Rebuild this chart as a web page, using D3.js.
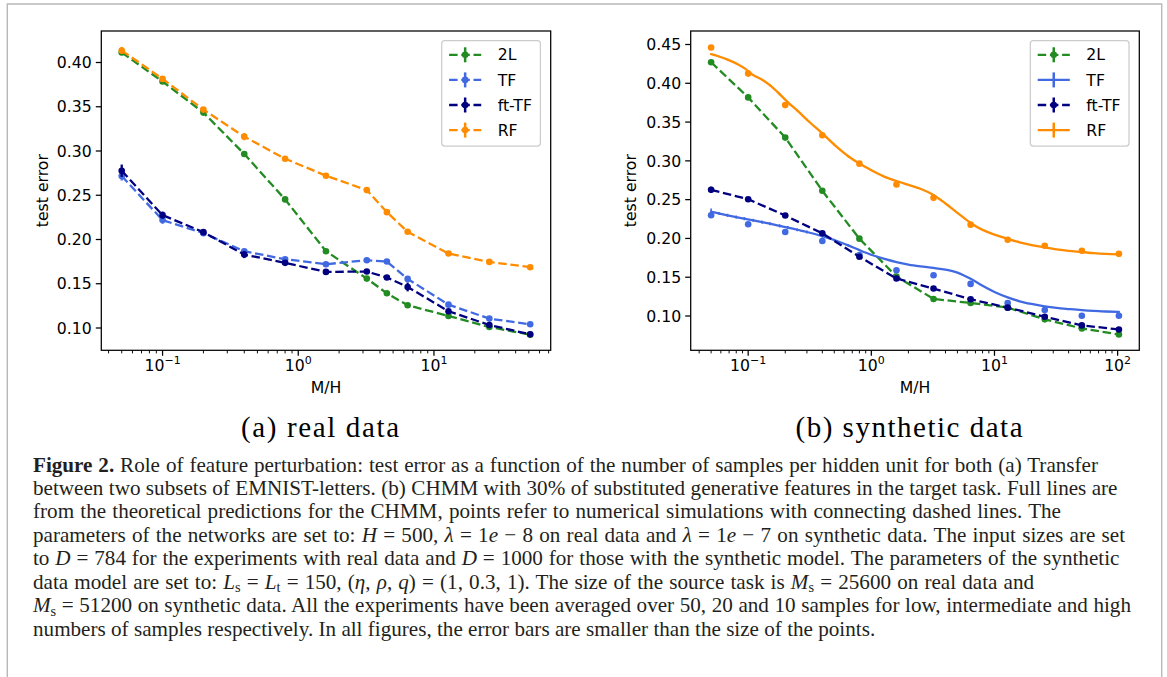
<!DOCTYPE html>
<html><head><meta charset="utf-8">
<script src="https://cdn.jsdelivr.net/npm/d3@7"></script>
<style>body{margin:0;background:#fff}svg{display:block}</style>
</head><body>
<svg id="fig" width="1167" height="677"></svg>
<script>
// ---------------- DATA ----------------
// (a) real data
const xReal = [0.05,0.1,0.2,0.4,0.8,1.6,3.2,4.5,6.4,12.8,25.6,51.2];
const real2L   = [0.4113,0.3785,0.3434,0.2966,0.2453,0.1868,0.1558,0.1392,0.1257,0.1136,0.1011,0.0925];
const realTF   = [0.2717,0.2219,0.2072,0.1868,0.1777,0.1721,0.1766,0.1751,0.1555,0.1264,0.1106,0.1042];
const realFtTF = [0.2777,0.2275,0.2083,0.1830,0.1736,0.1634,0.1638,0.1570,0.1464,0.1189,0.1034,0.0928];
const realRF   = [0.4136,0.3815,0.3468,0.3162,0.2913,0.2721,0.2558,0.2309,0.2087,0.1842,0.1747,0.1687];
const realErr2L   = [0.003,0.002,0.002,0.003,0.002,0.002,0.001,0.001,0.001,0.001,0.001,0.001];
const realErrTF   = [0.005,0.004,0.002,0.002,0.001,0.001,0.001,0.001,0.002,0.001,0.001,0.001];
const realErrFtTF = [0.007,0.004,0.002,0.004,0.002,0.001,0.001,0.002,0.005,0.002,0.001,0.001];
const realErrRF   = [0.004,0.003,0.002,0.004,0.001,0.001,0.001,0.001,0.001,0.001,0.001,0.001];

// (b) synthetic data: simulations
const xSyn = [0.05,0.1,0.2,0.4,0.8,1.6,3.2,6.4,12.8,25.6,51.2,102.4];
const syn2L   = [0.4271,0.3818,0.3300,0.2614,0.1997,0.1509,0.1220,0.1168,0.1108,0.0957,0.0840,0.0762];
const synTF   = [0.2299,0.2182,0.2083,0.1967,0.1785,0.1590,0.1526,0.1414,0.1168,0.1077,0.1004,0.1004];
const synFtTF = [0.2627,0.2506,0.2295,0.2066,0.1764,0.1483,0.1354,0.1216,0.1108,0.0991,0.0879,0.0827];
const synRF   = [0.4461,0.4125,0.3719,0.3330,0.2964,0.2696,0.2523,0.2178,0.1984,0.1906,0.1841,0.1802];
const synErr2L   = [0.002,0.002,0.002,0.002,0.002,0.001,0.001,0.001,0.001,0.001,0.001,0.001];
const synErrFtTF = [0.004,0.002,0.002,0.002,0.001,0.001,0.001,0.001,0.001,0.001,0.001,0.001];

// (b) synthetic data: theory curves
const xTheory = [0.05,0.058,0.068,0.08,0.093,0.11,0.13,0.15,0.18,0.21,0.25,0.3,0.4,0.5,0.65,0.8,1.0,1.3,1.6,2.0,2.5,3.2,4.0,5.0,6.4,8.0,10,12.8,16,20,25.6,32,40,51.2,64,80,102.4];
const theoryTF = [0.2345,0.2322,0.2298,0.2275,0.2255,0.2233,0.2210,0.2190,0.2163,0.2140,0.2112,0.2083,0.2030,0.1980,0.1910,0.1850,0.1790,0.1733,0.1695,0.1663,0.1640,0.1620,0.1598,0.1560,0.1480,0.1390,0.1310,0.1240,0.1190,0.1155,0.1125,0.1105,0.1090,0.1075,0.1065,0.1058,0.1052];
const theoryRF = [0.4375,0.4345,0.4305,0.4255,0.4195,0.4105,0.4045,0.3975,0.3860,0.3755,0.3650,0.3530,0.3355,0.3210,0.3060,0.2965,0.2880,0.2790,0.2740,0.2690,0.2640,0.2560,0.2450,0.2330,0.2200,0.2110,0.2050,0.1995,0.1950,0.1915,0.1885,0.1860,0.1840,0.1825,0.1810,0.1800,0.1795];
const theoryErrTF = [0.004,0.002,0.002,0.002,0.002,0.002,0.002,0.002,0.002,0.002,0.002,0.002,0.002,0.0015,0.0015,0.001,0.001,0.001,0,0,0,0,0,0,0,0,0,0,0,0,0,0,0,0,0,0,0];
const theoryErrRF = [0.001,0.001,0.001,0.001,0.001,0.001,0.001,0.0015,0.0015,0.0015,0.0015,0.0015,0.0015,0.0015,0.0015,0.0015,0.001,0.001,0.001,0.001,0,0,0,0,0,0,0,0,0,0,0,0,0,0,0,0,0];

const yTicksReal = [0.10,0.15,0.20,0.25,0.30,0.35,0.40];
const yTicksSyn  = [0.10,0.15,0.20,0.25,0.30,0.35,0.40,0.45];
const legendLabels = ["2L","TF","ft-TF","RF"];
const xLabel = "M/H", yLabel = "test error";
const subCaptions = ["(a) real data","(b) synthetic data"];

// ---------------- STYLE ----------------
const C = {g:"#228b22", b:"#4169e1", n:"#000080", o:"#ff8c00"};
const FONT = "'DejaVu Sans', sans-serif";
const FS = 15.7;
const LW = 2.3;
const DASH = "8.5,3.7";
const MR = 3.3;

const svg = d3.select("#fig");
svg.append("path").attr("d","M7.3,677V4H1161.7V677").attr("fill","none").attr("stroke","#b8b8b8").attr("stroke-width",1.4);

function drawPanel(p){
  const g = svg.append("g");
  const x = d3.scaleLog().domain(p.xDom).range([p.L,p.R]);
  const y = d3.scaleLinear().domain(p.yDom).range([p.B,p.T]);

  // series
  p.series.forEach(s=>{
    const pts = s.x.map((v,i)=>({x:v,y:s.y[i],e:s.e?s.e[i]:0}));
    const gs = g.append("g");
    if(s.line){
      const ln = d3.line().x(d=>x(d.x)).y(d=>y(d.y));
      if(s.smooth) ln.curve(d3.curveMonotoneX);
      gs.append("path").attr("d",ln(pts)).attr("fill","none").attr("stroke",s.c)
        .attr("stroke-width",LW).attr("stroke-dasharray",s.dash?DASH:null).attr("stroke-linecap",s.dash?"butt":"round");
    }
    gs.selectAll("line.eb").data(pts.filter(d=>d.e>0)).join("line")
      .attr("x1",d=>x(d.x)).attr("x2",d=>x(d.x)).attr("y1",d=>y(d.y-d.e)).attr("y2",d=>y(d.y+d.e))
      .attr("stroke",s.c).attr("stroke-width",s.ebw||2.3);
    if(s.marker){
      gs.selectAll("circle").data(pts).join("circle").attr("cx",d=>x(d.x)).attr("cy",d=>y(d.y)).attr("r",MR).attr("fill",s.c);
    }
  });

  // frame
  g.append("rect").attr("x",p.L).attr("y",p.T).attr("width",p.R-p.L).attr("height",p.B-p.T)
    .attr("fill","none").attr("stroke","#000").attr("stroke-width",1.25);

  // y ticks
  const yt = g.append("g");
  p.yTicks.forEach(t=>{
    yt.append("line").attr("x1",p.L-5.5).attr("x2",p.L).attr("y1",y(t)).attr("y2",y(t)).attr("stroke","#000").attr("stroke-width",1.25);
    yt.append("text").attr("x",p.L-9.5).attr("y",y(t)).attr("dy","0.36em").attr("text-anchor","end")
      .attr("font-family",FONT).attr("font-size",FS).text(d3.format(".2f")(t));
  });
  // x ticks (log)
  const [d0,d1] = x.domain();
  const e0 = Math.floor(Math.log10(d0)), e1 = Math.ceil(Math.log10(d1));
  for(let e=e0;e<=e1;e++){
    for(let m=1;m<10;m++){
      const v = m*Math.pow(10,e);
      if(v<d0||v>d1) continue;
      const major = m===1;
      g.append("line").attr("x1",x(v)).attr("x2",x(v)).attr("y1",p.B).attr("y2",p.B+(major?5.5:3.1))
        .attr("stroke","#000").attr("stroke-width",major?1.25:0.95);
      if(major){
        const t = g.append("text").attr("x",x(v)).attr("y",p.B+21).attr("text-anchor","middle")
          .attr("font-family",FONT).attr("font-size",FS);
        t.append("tspan").text("10");
        t.append("tspan").attr("dy",-7).attr("font-size",FS*0.7).text(e<0?"\u2212"+(-e):String(e));
      }
    }
  }
  // axis labels
  g.append("text").attr("x",(p.L+p.R)/2).attr("y",p.B+42.7).attr("text-anchor","middle")
    .attr("font-family",FONT).attr("font-size",FS).text(xLabel);
  g.append("text").attr("transform",`translate(${p.ylx},${(p.T+p.B)/2}) rotate(-90)`).attr("text-anchor","middle")
    .attr("font-family",FONT).attr("font-size",FS).text(yLabel);

  // legend
  const lw = 98.7, lh = 105.5;
  const lx = p.R-10.3-lw, ly = p.T+9.5;
  const lg = g.append("g");
  lg.append("rect").attr("x",lx).attr("y",ly).attr("width",lw).attr("height",lh).attr("rx",3)
    .attr("fill","#fff").attr("fill-opacity",0.8).attr("stroke","#cccccc").attr("stroke-width",1.25);
  p.legend.forEach((it,i)=>{
    const cy = ly+14.3+i*25.1, x0 = lx+7.4, x1 = lx+39.5, xm=(x0+x1)/2;
    lg.append("line").attr("x1",x0).attr("x2",x1).attr("y1",cy).attr("y2",cy).attr("stroke",it.c)
      .attr("stroke-width",LW).attr("stroke-dasharray",it.dash?"8.5,3.7":null);
    lg.append("line").attr("x1",xm).attr("x2",xm).attr("y1",cy-7.5).attr("y2",cy+7.5).attr("stroke",it.c).attr("stroke-width",2.5);
    if(it.marker) lg.append("circle").attr("cx",xm).attr("cy",cy).attr("r",MR).attr("fill",it.c);
    lg.append("text").attr("x",lx+56).attr("y",cy).attr("dy","0.36em").attr("font-family",FONT).attr("font-size",FS).text(legendLabels[i]);
  });
}

// panel (a)
drawPanel({
  L:101.3,R:550.7,T:31,B:350.3, ylx:47.5,
  xDom:[Math.pow(10,-1.4515),Math.pow(10,1.8604)], yDom:[0.0748,0.4356], yTicks:yTicksReal,
  series:[
    {x:xReal,y:real2L,e:realErr2L,c:C.g,line:true,dash:true,marker:true},
    {x:xReal,y:realTF,e:realErrTF,c:C.b,line:true,dash:true,marker:true},
    {x:xReal,y:realFtTF,e:realErrFtTF,c:C.n,line:true,dash:true,marker:true},
    {x:xReal,y:realRF,e:realErrRF,c:C.o,line:true,dash:true,marker:true}
  ],
  legend:[{c:C.g,dash:true,marker:true},{c:C.b,dash:true,marker:true},{c:C.n,dash:true,marker:true},{c:C.o,dash:true,marker:true}]
});
// panel (b)
drawPanel({
  L:690.7,R:1139.3,T:31,B:350.3, ylx:636.4,
  xDom:[Math.pow(10,-1.4667),Math.pow(10,2.1759)], yDom:[0.0558,0.4674], yTicks:yTicksSyn,
  series:[
    {x:xSyn,y:syn2L,e:synErr2L,c:C.g,line:true,dash:true,marker:true},
    {x:xTheory,y:theoryTF,e:theoryErrTF,c:C.b,line:true,smooth:true,ebw:1.6},
    {x:xSyn,y:synTF,c:C.b,marker:true},
    {x:xSyn,y:synFtTF,e:synErrFtTF,c:C.n,line:true,dash:true,marker:true},
    {x:xTheory,y:theoryRF,e:theoryErrRF,c:C.o,line:true,smooth:true,ebw:1.6},
    {x:xSyn,y:synRF,c:C.o,marker:true}
  ],
  legend:[{c:C.g,dash:true,marker:true},{c:C.b},{c:C.n,dash:true,marker:true},{c:C.o}]
});

// sub captions
[[320,158],[909,227]].forEach(([cx,w],i)=>{
  svg.append("text").attr("x",cx-w/2).attr("y",437).attr("textLength",w).attr("lengthAdjust","spacing")
    .attr("font-family","'Liberation Serif', serif").attr("font-size",29).attr("fill","#000").text(subCaptions[i]);
});

// caption
const capLines = [
 [["Figure 2.","b"],[" Role of feature perturbation: test error as a function of the number of samples per hidden unit for both (a) Transfer",""]],
 [["between two subsets of EMNIST-letters. (b) CHMM with 30% of substituted generative features in the target task. Full lines are",""]],
 [["from the theoretical predictions for the CHMM, points refer to numerical simulations with connecting dashed lines. The",""]],
 [["parameters of the networks are set to: ",""],["H","i"],[" = 500, ",""],["λ","i"],[" = 1",""],["e","i"],[" − 8 on real data and ",""],["λ","i"],[" = 1",""],["e","i"],[" − 7 on synthetic data. The input sizes are set",""]],
 [["to ",""],["D","i"],[" = 784 for the experiments with real data and ",""],["D","i"],[" = 1000 for those with the synthetic model. The parameters of the synthetic",""]],
 [["data model are set to: ",""],["L","i"],["s","s"],[" = ",""],["L","i"],["t","s"],[" = 150, (",""],["η","i"],[", ",""],["ρ","i"],[", ",""],["q","i"],[") = (1, 0.3, 1). The size of the source task is ",""],["M","i"],["s","s"],[" = 25600 on real data and",""]],
 [["M","i"],["s","s"],[" = 51200 on synthetic data. All the experiments have been averaged over 50, 20 and 10 samples for low, intermediate and high",""]],
 [["numbers of samples respectively. In all figures, the error bars are smaller than the size of the points.",""]]
];
const capEnds = [1098,1117.5,1061,1125,1119.4,1034,1131,875.5];
const capX = 33, capY0 = 471.5, capDY = 23.43;
const capTexts = capLines.map((segs,li)=>{
  const t = svg.append("text").attr("x",capX).attr("y",capY0+li*capDY)
    .attr("font-family","'Liberation Serif', serif").attr("font-size",19).attr("fill","#231f20");
  let shifted=false;
  segs.forEach(([s,st])=>{
    const ts = t.append("tspan").text(s);
    if(st==="b") ts.attr("font-weight","bold");
    if(st==="i") ts.attr("font-style","italic");
    if(st==="s"){ ts.attr("font-size",13).attr("dy",3.5); shifted=true; }
    else if(shifted){ ts.attr("dy",-3.5); shifted=false; }
  });
  return t;
});
// size from last line, then fit others with word spacing
const w8 = capTexts[7].node().getComputedTextLength();
const fs = 19*(capEnds[7]-capX)/w8;
capTexts.forEach((t,i)=>{
  t.attr("font-size",fs);
  t.selectAll("tspan").filter(function(){return d3.select(this).attr("font-size")==="13";}).attr("font-size",fs*0.68);
});
capTexts.forEach((t,i)=>{
  if(i===7) return;
  const w = t.node().getComputedTextLength();
  const nSp = capLines[i].map(s=>s[0]).join("").split(" ").length-1;
  t.attr("word-spacing",((capEnds[i]-capX)-w)/nSp);
});
</script>
</body></html>
